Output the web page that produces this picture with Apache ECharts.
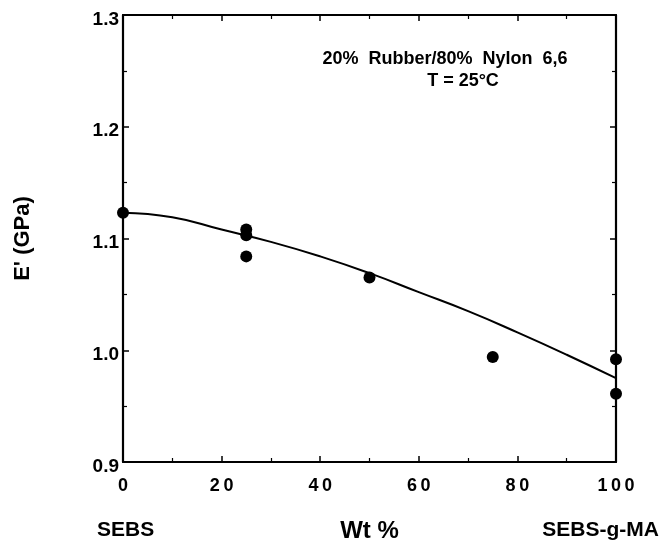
<!DOCTYPE html>
<html>
<head>
<meta charset="utf-8">
<script src="https://cdn.jsdelivr.net/npm/echarts@6/dist/echarts.min.js"></script>
<style>html,body{margin:0;padding:0;background:#fff}#c{width:662px;height:548px}</style>
</head>
<body>
<div id="c"></div>
<script>
// Measured points: [Wt % SEBS-g-MA, E' (GPa)]
const pointsWt = [0, 25, 25, 25, 50, 75, 100, 100];
const pointsE  = [1.123, 1.108, 1.103, 1.084, 1.065, 0.994, 0.992, 0.961];
// Fitted curve
const curveWt = [0, 10, 20, 30, 40, 50, 60, 70, 80, 90, 100];
const curveE  = [1.123, 1.119, 1.108, 1.097, 1.084, 1.069, 1.052, 1.035, 1.016, 0.996, 0.975];
const xTicks = [0, 20, 40, 60, 80, 100];
const yTicks = [0.9, 1.0, 1.1, 1.2, 1.3];

const FONT = '"Liberation Sans", Arial, sans-serif';
const chart = echarts.init(document.getElementById('c'));
const axisLine = { show: true, onZero: false, lineStyle: { color: '#000', width: 2.2 } };
const tick = { inside: true, length: 6, lineStyle: { color: '#000', width: 1.5 } };
const minor = { show: true, splitNumber: 2, length: 4, lineStyle: { color: '#000', width: 1.2 } };
chart.setOption({
  animation: false,
  backgroundColor: '#fff',
  grid: { left: 123, right: 46, top: 15, bottom: 83 },
  xAxis: [
    { type: 'value', min: xTicks[0], max: xTicks[xTicks.length - 1], interval: 20,
      axisLine, splitLine: { show: false }, axisTick: tick, minorTick: minor,
      axisLabel: { color: '#000', fontFamily: FONT, fontWeight: 'bold', fontSize: 18, margin: 15,
        formatter: v => String(v).split('').join('\u2009') },
      name: 'Wt %', nameLocation: 'middle', nameGap: 57,
      nameTextStyle: { color: '#000', fontFamily: FONT, fontWeight: 'bold', fontSize: 24 } },
    { type: 'value', position: 'top', min: 0, max: 100, interval: 20,
      axisLine, splitLine: { show: false }, axisTick: tick, minorTick: minor,
      axisLabel: { show: false } }
  ],
  yAxis: [
    { type: 'value', min: yTicks[0], max: yTicks[yTicks.length - 1], interval: 0.1,
      axisLine, splitLine: { show: false }, axisTick: tick, minorTick: minor,
      axisLabel: { color: '#000', fontFamily: FONT, fontWeight: 'bold', fontSize: 19, margin: 4,
        formatter: v => '{a|' + v.toFixed(1) + '}',
        rich: { a: { fontFamily: FONT, fontWeight: 'bold', fontSize: 19, color: '#000', padding: [9, 0, 0, 0] } } },
      name: "E' (GPa)", nameLocation: 'middle', nameGap: 89, nameRotate: 90,
      nameTextStyle: { color: '#000', fontFamily: FONT, fontWeight: 'bold', fontSize: 22 } },
    { type: 'value', position: 'right', min: 0.9, max: 1.3, interval: 0.1,
      axisLine, splitLine: { show: false }, axisTick: tick, minorTick: minor,
      axisLabel: { show: false } }
  ],
  graphic: [
    { type: 'text', x: 97, y: 530, style: { text: 'SEBS', fill: '#000', font: 'bold 21px ' + FONT, textVerticalAlign: 'middle' } },
    { type: 'text', x: 659, y: 530, style: { text: 'SEBS-g-MA', fill: '#000', font: 'bold 21px ' + FONT, textAlign: 'right', textVerticalAlign: 'middle' } },
    { type: 'text', x: 445, y: 59, style: { text: '20%  Rubber/80%  Nylon  6,6', fill: '#000', font: 'bold 18px ' + FONT, textAlign: 'center', textVerticalAlign: 'middle' } },
    { type: 'text', x: 463, y: 81, style: { text: 'T = 25\u00B0C', fill: '#000', font: 'bold 18px ' + FONT, textAlign: 'center', textVerticalAlign: 'middle' } }
  ],
  series: [
    { type: 'line', data: curveWt.map((x, i) => [x, curveE[i]]), smooth: true, showSymbol: false,
      lineStyle: { color: '#000', width: 2 }, z: 2 },
    { type: 'scatter', data: pointsWt.map((x, i) => [x, pointsE[i]]), symbol: 'circle', symbolSize: 12,
      itemStyle: { color: '#000', opacity: 1 }, z: 3, clip: false }
  ]
});
</script>
</body>
</html>
